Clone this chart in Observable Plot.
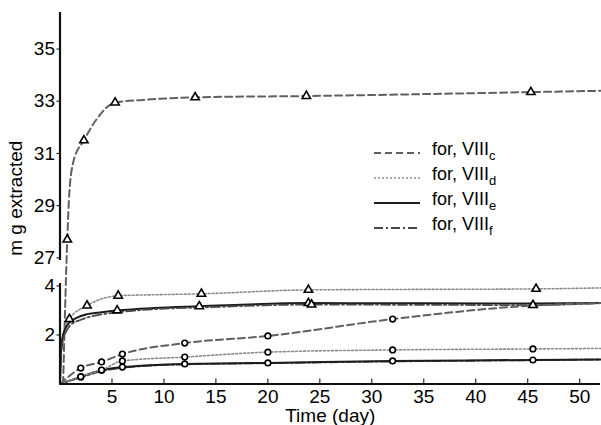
<!DOCTYPE html>
<html>
<head>
<meta charset="utf-8">
<script src="https://cdn.jsdelivr.net/npm/d3@7"></script>
<script src="https://cdn.jsdelivr.net/npm/@observablehq/plot@0.6"></script>
<style>
  body { margin: 0; background: #fff; }
  #chart { position: relative; width: 601px; height: 425px; font-family: "Liberation Sans", Arial, sans-serif; color: #000; }
  #legend { position: absolute; left: 372px; top: 140px; font-size: 18px; line-height: 25px; }
  #legend .row { display: flex; align-items: center; height: 25px; }
  #legend svg { width: 50px; height: 10px; margin-right: 10px; }
  #legend sub { font-size: 13px; vertical-align: -5px; }
</style>
</head>
<body>
<div id="chart"><div id="legend"></div></div>
<script>
// Extraction runs, one pair per compound: triangles (upper) and circles (lower).
// Each run: knot days, amounts (mg), and 1 where a measurement marker is drawn.
const cTriDays = [0.3, 0.7, 0.9, 1.3, 2.3, 3.5, 5.3, 8, 13, 23.7, 45.3, 52];
const cTriVals = [0, 27.7, 29.5, 30.7, 31.5, 32.3, 32.95, 33.05, 33.15, 33.2, 33.35, 33.4];
const cTriMark = [0, 1, 0, 0, 1, 0, 1, 0, 1, 1, 1, 0];

const dTriDays = [0, 0.1, 0.4, 0.9, 2.6, 5.6, 9, 13.6, 23.9, 45.8, 52];
const dTriVals = [0, 1.3, 2.2, 2.65, 3.2, 3.6, 3.64, 3.68, 3.84, 3.88, 3.92];
const dTriMark = [0, 0, 0, 1, 1, 1, 0, 1, 1, 1, 0];

const eTriDays = [0, 0.08, 0.25, 0.5, 0.9, 1.6, 2.6, 4, 5.5, 9, 13.4, 23.9, 45.5, 52];
const eTriVals = [0, 1.2, 1.9, 2.25, 2.5, 2.7, 2.85, 2.93, 3.0, 3.1, 3.17, 3.3, 3.28, 3.3];
const eTriMark = [0, 0, 0, 0, 0, 0, 0, 0, 1, 0, 1, 1, 0, 0];

const fTriDays = [0, 0.1, 0.3, 0.6, 1, 2, 3.5, 5.5, 9, 13.4, 24.2, 45.5, 52];
const fTriVals = [0, 1.1, 1.8, 2.15, 2.4, 2.62, 2.8, 2.92, 3.05, 3.12, 3.24, 3.22, 3.3];
const fTriMark = [0, 0, 0, 0, 0, 0, 0, 0, 0, 0, 1, 1, 0];

const circDays = [0, 2, 4, 6, 12, 20, 32, 45.5, 52];
const cCircVals = [0, 0.65, 0.9, 1.22, 1.67, 1.96, 2.65, 3.2, 3.3];
const cCircMark = [0, 1, 1, 1, 1, 1, 1, 0, 0];
const dCircVals = [0, 0.3, 0.57, 0.94, 1.1, 1.3, 1.39, 1.43, 1.45];
const dCircMark = [0, 1, 1, 1, 1, 1, 1, 1, 0];
const eCircVals = [0, 0.29, 0.56, 0.69, 0.82, 0.86, 0.94, 0.98, 1.0];
const eCircMark = [0, 1, 1, 1, 1, 1, 1, 1, 0];
const fCircVals = [0, 0.27, 0.52, 0.66, 0.8, 0.85, 0.92, 0.97, 1.0];
const fCircMark = [0, 0, 0, 0, 0, 0, 0, 0, 0];

const legendSubs = ["c", "d", "e", "f"];
const xTicks = [5, 10, 15, 20, 25, 30, 35, 40, 45, 50];
const yTicks = [2, 4, 27, 29, 31, 33, 35];
// broken value axis: lower band and upper band
const yBands = [[0, 4.1], [26.9, 36.4]];

// Broken-axis transform: the lower band keeps its units, the gap is squeezed
// and the upper band is slightly stretched.
const [[lo0, lo1], [hi0, hi1]] = yBands;
const gapSpan = 0.94, upperStretch = 1.065;
function brokenY(v) {
  if (v <= lo1) return v;
  if (v < hi0) return lo1 + (v - lo1) / (hi0 - lo1) * gapSpan;
  return lo1 + gapSpan + (v - hi0) * upperStretch;
}
// axis ticks are placed in transformed units and labelled with the raw amount
const yTickLabel = new Map(yTicks.map(t => [brokenY(t), t]));

const styles = {
  c: {stroke: "#606060", strokeWidth: 2, strokeDasharray: "7,4"},
  d: {stroke: "#8c8c8c", strokeWidth: 1.6, strokeDasharray: "2,2"},
  e: {stroke: "#1c1c1c", strokeWidth: 2},
  f: {stroke: "#484848", strokeWidth: 1.8, strokeDasharray: "9,3,2,3"}
};

function run(key, group, days, vals, marks) {
  return days.map((day, i) => ({key, group, day, value: vals[i], mark: marks[i] === 1}));
}

const runs = [
  run("c", "tri", cTriDays, cTriVals, cTriMark),
  run("d", "tri", dTriDays, dTriVals, dTriMark),
  run("e", "tri", eTriDays, eTriVals, eTriMark),
  run("f", "tri", fTriDays, fTriVals, fTriMark),
  run("f", "circ", circDays, fCircVals, fCircMark),
  run("e", "circ", circDays, eCircVals, eCircMark),
  run("d", "circ", circDays, dCircVals, dCircMark),
  run("c", "circ", circDays, cCircVals, cCircMark)
];
const all = runs.flat();

const chart = Plot.plot({
  width: 601,
  height: 425,
  marginLeft: 59.5,
  marginRight: 1,
  marginTop: 12,
  marginBottom: 41.5,
  style: {fontFamily: "Liberation Sans, Arial, sans-serif", fontSize: "19px", color: "#000", background: "#fff"},
  x: {domain: [0, 52]},
  y: {transform: brokenY, nice: false, zero: false},
  marks: [
    ...runs.map(r => Plot.line(r, {x: "day", y: "value", curve: "monotone-x", ...styles[r[0].key]})),
    Plot.dot(all.filter(d => d.mark && d.group === "tri"), {x: "day", y: "value", symbol: "triangle", r: 3.1, stroke: "#000", strokeWidth: 1.6, fill: "#fff"}),
    Plot.dot(all.filter(d => d.mark && d.group === "circ"), {x: "day", y: "value", symbol: "circle", r: 2.8, stroke: "#000", strokeWidth: 1.6, fill: "#fff"}),
    Plot.ruleY([0], {x1: 0, x2: 52, stroke: "#111", strokeWidth: 2}),
    Plot.ruleX(yBands, {x: 0, y1: d => d[0], y2: d => d[1], stroke: "#111", strokeWidth: 2.2}),
    Plot.axisX({ticks: xTicks, tickSize: -5, tickFormat: () => "", label: null}),
    Plot.axisX({ticks: xTicks, tickSize: 0, tickPadding: 5, fontSize: 19, label: "Time (day)", labelAnchor: "center", labelArrow: false, labelOffset: 38}),
    Plot.axisY({ticks: [...yTickLabel.keys()], tickFormat: u => yTickLabel.get(u), tickSize: 3, tickPadding: 2, fontSize: 19, label: "m g extracted", labelAnchor: "center", labelArrow: false, labelOffset: 52})
  ]
});
document.getElementById("chart").prepend(chart);

// legend with the four line styles
const legend = d3.select("#legend");
legendSubs.forEach(k => {
  const row = legend.append("div").attr("class", "row");
  const s = styles[k];
  row.append("svg").append("line")
    .attr("x1", 2).attr("x2", 48).attr("y1", 5).attr("y2", 5)
    .attr("stroke", s.stroke).attr("stroke-width", s.strokeWidth)
    .attr("stroke-dasharray", s.strokeDasharray || null);
  row.append("span").html(`for, VIII<sub>${k}</sub>`);
});
</script>
</body>
</html>
